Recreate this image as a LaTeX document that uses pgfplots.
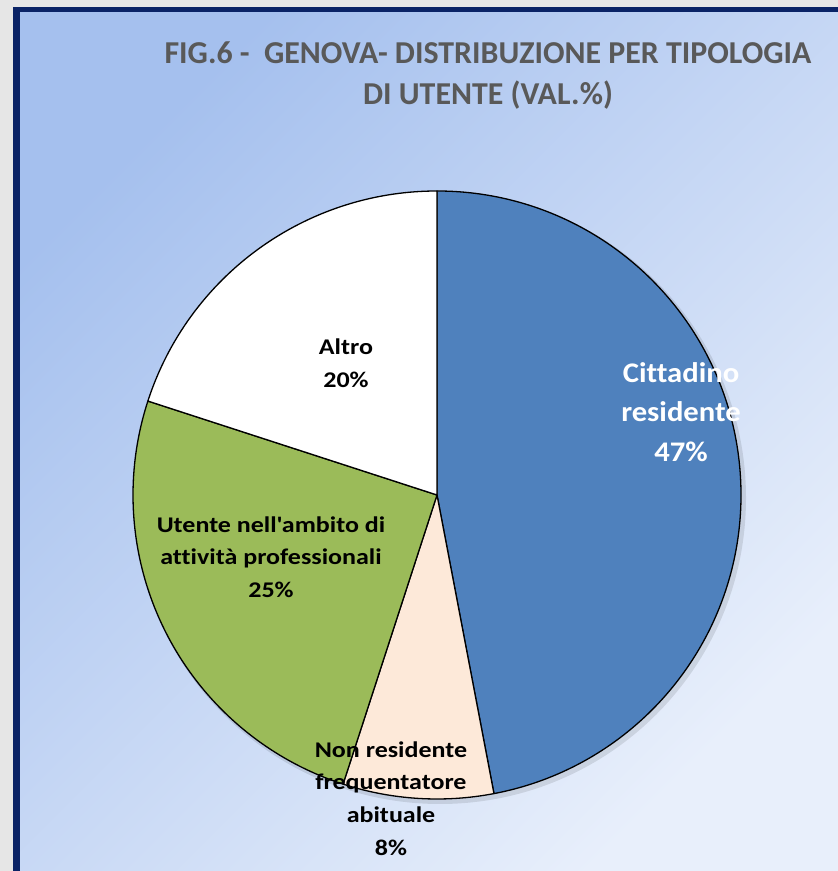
\documentclass[border=0pt]{standalone}
\usepackage{pgfplots}
\usepackage{pgfplotstable}
\pgfplotsset{compat=1.18}
\usepackage{fontspec}
\setmainfont{Carlito}[Ligatures={TeX,NoCommon}]
\newfontfamily\labfont{Carlito}[Ligatures={TeX,NoCommon}, FakeStretch=1.16]
\newfontfamily\citfont{Carlito}[Ligatures={TeX,NoCommon}, FakeStretch=1.08]
\definecolor{cblue}{HTML}{4F81BD}
\definecolor{cpeach}{HTML}{FDE9D9}
\definecolor{cgreen}{HTML}{9BBB59}
\definecolor{cwhite}{HTML}{FFFFFF}
\definecolor{navy}{HTML}{0A2366}
\definecolor{bgA}{HTML}{A5C0EE}
\definecolor{bgD}{HTML}{E8EFFB}
\definecolor{outer}{HTML}{E6E6E6}
\definecolor{titlegray}{HTML}{595959}

\pgfplotstableread{
label value color
Cittadino 47 cblue
NonResidente 8 cpeach
Utente 25 cgreen
Altro 20 cwhite
}\piedata

\begin{document}
\begin{tikzpicture}
\begin{axis}[scale only axis, width=838bp, height=871bp,
  xmin=0, xmax=838, ymin=0, ymax=871, hide axis, clip=false]
% frame and background
\fill[outer] (axis cs:0,0) rectangle (axis cs:838,871);
\fill[navy] (axis cs:13,0) rectangle (axis cs:838,864);
\shade[top color=bgA, bottom color=bgD, shading angle=45]
  (axis cs:20,0) rectangle (axis cs:838,858);
% pie shadow
\fill[black, opacity=0.10] (axis cs:440,373) circle[radius=306bp];
% pie slices
\pgfplotstablegetrowsof{\piedata}
\pgfmathtruncatemacro\nrows{\pgfplotsretval-1}
\gdef\cumang{90}
\pgfplotsforeachungrouped \i in {0,...,\nrows}{%
  \pgfplotstablegetelem{\i}{value}\of\piedata \let\sliceval\pgfplotsretval
  \pgfplotstablegetelem{\i}{color}\of\piedata \let\slicecol\pgfplotsretval
  \pgfmathsetmacro\endang{\cumang-3.6*\sliceval}%
  \edef\temp{\noexpand\filldraw[fill=\slicecol, draw=black, line width=1.3bp, line join=round]
    (axis cs:437,376) -- (axis cs:{437+304*cos(\cumang)},{376+304*sin(\cumang)})
    arc[start angle=\cumang, end angle=\endang, radius=304bp] -- cycle;}%
  \temp
  \global\let\cumang\endang
}
% title
\node[anchor=base, text=titlegray, font=\bfseries\fontsize{32}{36}\selectfont] at (axis cs:488,807) {FIG.6 -\ \ GENOVA- DISTRIBUZIONE PER TIPOLOGIA};
\node[anchor=base, text=titlegray, font=\bfseries\fontsize{32}{36}\selectfont] at (axis cs:488,766) {DI UTENTE (VAL.\%)};
% labels
\tikzset{lab/.style={anchor=base, font=\labfont\bfseries\fontsize{22.5}{26}\selectfont},
  cit/.style={anchor=base, text=white, font=\citfont\bfseries\fontsize{28.5}{32}\selectfont}}
\node[lab] at (axis cs:346,516) {Altro};
\node[lab] at (axis cs:346,483) {20\%};
\node[cit] at (axis cs:681,488) {Cittadino};
\node[cit] at (axis cs:681,449) {residente};
\node[cit] at (axis cs:681,409) {47\%};
\node[lab] at (axis cs:271,338) {Utente nell\textquotesingle ambito di};
\node[lab] at (axis cs:271,306) {attività professionali};
\node[lab] at (axis cs:271,273) {25\%};
\node[lab] at (axis cs:391,113) {Non residente};
\node[lab] at (axis cs:391,81) {frequentatore};
\node[lab] at (axis cs:391,48) {abituale};
\node[lab] at (axis cs:391,16) {8\%};
\end{axis}
\end{tikzpicture}
\end{document}
